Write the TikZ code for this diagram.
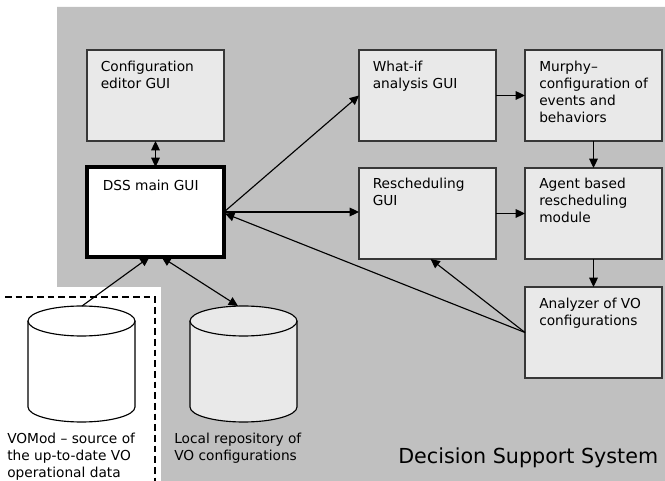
\documentclass[tikz,border=0pt]{standalone}
\usepackage{fontspec}
\setmainfont{DejaVu Sans}
\usetikzlibrary{arrows.meta,calc}
\definecolor{bggray}{RGB}{192,192,192}
\definecolor{boxfill}{RGB}{233,233,233}
\definecolor{boxline}{RGB}{55,55,55}
\begin{document}
\begin{tikzpicture}[x=0.75pt,y=-0.75pt,
  box/.style={draw=boxline,line width=1pt,fill=boxfill,minimum width=102.75pt,minimum height=68.25pt,inner sep=0pt,outer sep=0pt},
  mainbox/.style={draw=black,line width=2.4pt,fill=white,minimum width=102.75pt,minimum height=67.5pt,inner sep=0pt,outer sep=0pt},
  lbl/.style={anchor=north west,inner sep=0pt,align=left,font=\fontsize{10.3pt}{12.75pt}\selectfont},
  arr/.style={line width=0.85pt,-{Triangle[length=7pt,width=6.5pt]}},
  dbl/.style={line width=0.85pt,{Triangle[length=7pt,width=6.5pt]}-{Triangle[length=7pt,width=6.5pt]}},
  cyl/.style={draw=black,line width=0.85pt}
]
\useasboundingbox (0,0) rectangle (665,481);
% background
\fill[bggray] (57,7) -- (665,7) -- (665,481) -- (161,481) -- (161,287) -- (57,287) -- cycle;
\draw[black,line width=1.1pt,dash pattern=on 5pt off 3pt] (5,297) -- (155,297) -- (155,481);

% boxes
\node[box] (cfg) at (155.5,95.5) {};
\node[mainbox] (dss) at (155.5,212) {};
\node[box] (whatif) at (427.5,95.5) {};
\node[box] (murphy) at (593.5,95.5) {};
\node[box] (resched) at (427.5,213.5) {};
\node[box] (agent) at (593.5,213.5) {};
\node[box] (analyzer) at (593.5,332.5) {};

\node[lbl] (cfgT) at ($(cfg.north west)+(13.5,11)$) {Configuration\\editor GUI};
\node[lbl] (dssT) at ($(dss.north west)+(15.5,13)$) {DSS main GUI};
\node[lbl] (whatifT) at ($(whatif.north west)+(13.5,11)$) {What-if\\analysis GUI};
\node[lbl] (murphyT) at ($(murphy.north west)+(14,11)$) {Murphy–\\configuration of\\events and\\behaviors};
\node[lbl] (reschedT) at ($(resched.north west)+(13.5,10)$) {Rescheduling\\GUI};
\node[lbl] (agentT) at ($(agent.north west)+(14,10)$) {Agent based\\rescheduling\\module};
\node[lbl] (analyzerT) at ($(analyzer.north west)+(14,11)$) {Analyzer of VO\\configurations};

% cylinders
\draw[cyl,fill=white] (28,321) -- (28,407) arc (180:0:53.5 and 15) -- (135,321);
\draw[cyl,fill=white] (81.5,321) ellipse (53.5 and 15);
\draw[cyl,fill=boxfill] (190,321) -- (190,407) arc (180:0:53.5 and 15) -- (297,321);
\draw[cyl,fill=boxfill] (243.5,321) ellipse (53.5 and 15);
\coordinate (vomod) at (82,306);
\coordinate (lrtop) at (238,306);

\node[lbl] (vomodT) at (7,433) {VOMod – source of\\the up-to-date VO\\operational data};
\node[lbl] (lrT) at (174,433) {Local repository of\\VO configurations};
\node[anchor=base west,inner sep=0pt,font=\fontsize{15.5pt}{18pt}\selectfont] (dsstitle) at (398,463) {Decision Support System};

% connectors
\draw[dbl] (cfg) -- (dss);
\draw[arr] (dss.east) -- (whatif.west);
\draw[arr] (dss.east) -- (dss.east -| resched.west);
\draw[arr] (whatif.east) -- (murphy.west);
\draw[arr] (murphy) -- (agent);
\draw[arr] (resched.east) -- (agent.west);
\draw[arr] (agent) -- (analyzer);
\draw[arr] (analyzer.west) -- ($(resched.south)+(3,0)$);
\draw[arr] (analyzer.west) -- ($(dss.east)+(1,1.5)$);
\draw[arr] (vomod) -- ($(dss.south)+(-6,0)$);
\draw[dbl] ($(dss.south)+(6,0)$) -- (lrtop);
\end{tikzpicture}
\end{document}
